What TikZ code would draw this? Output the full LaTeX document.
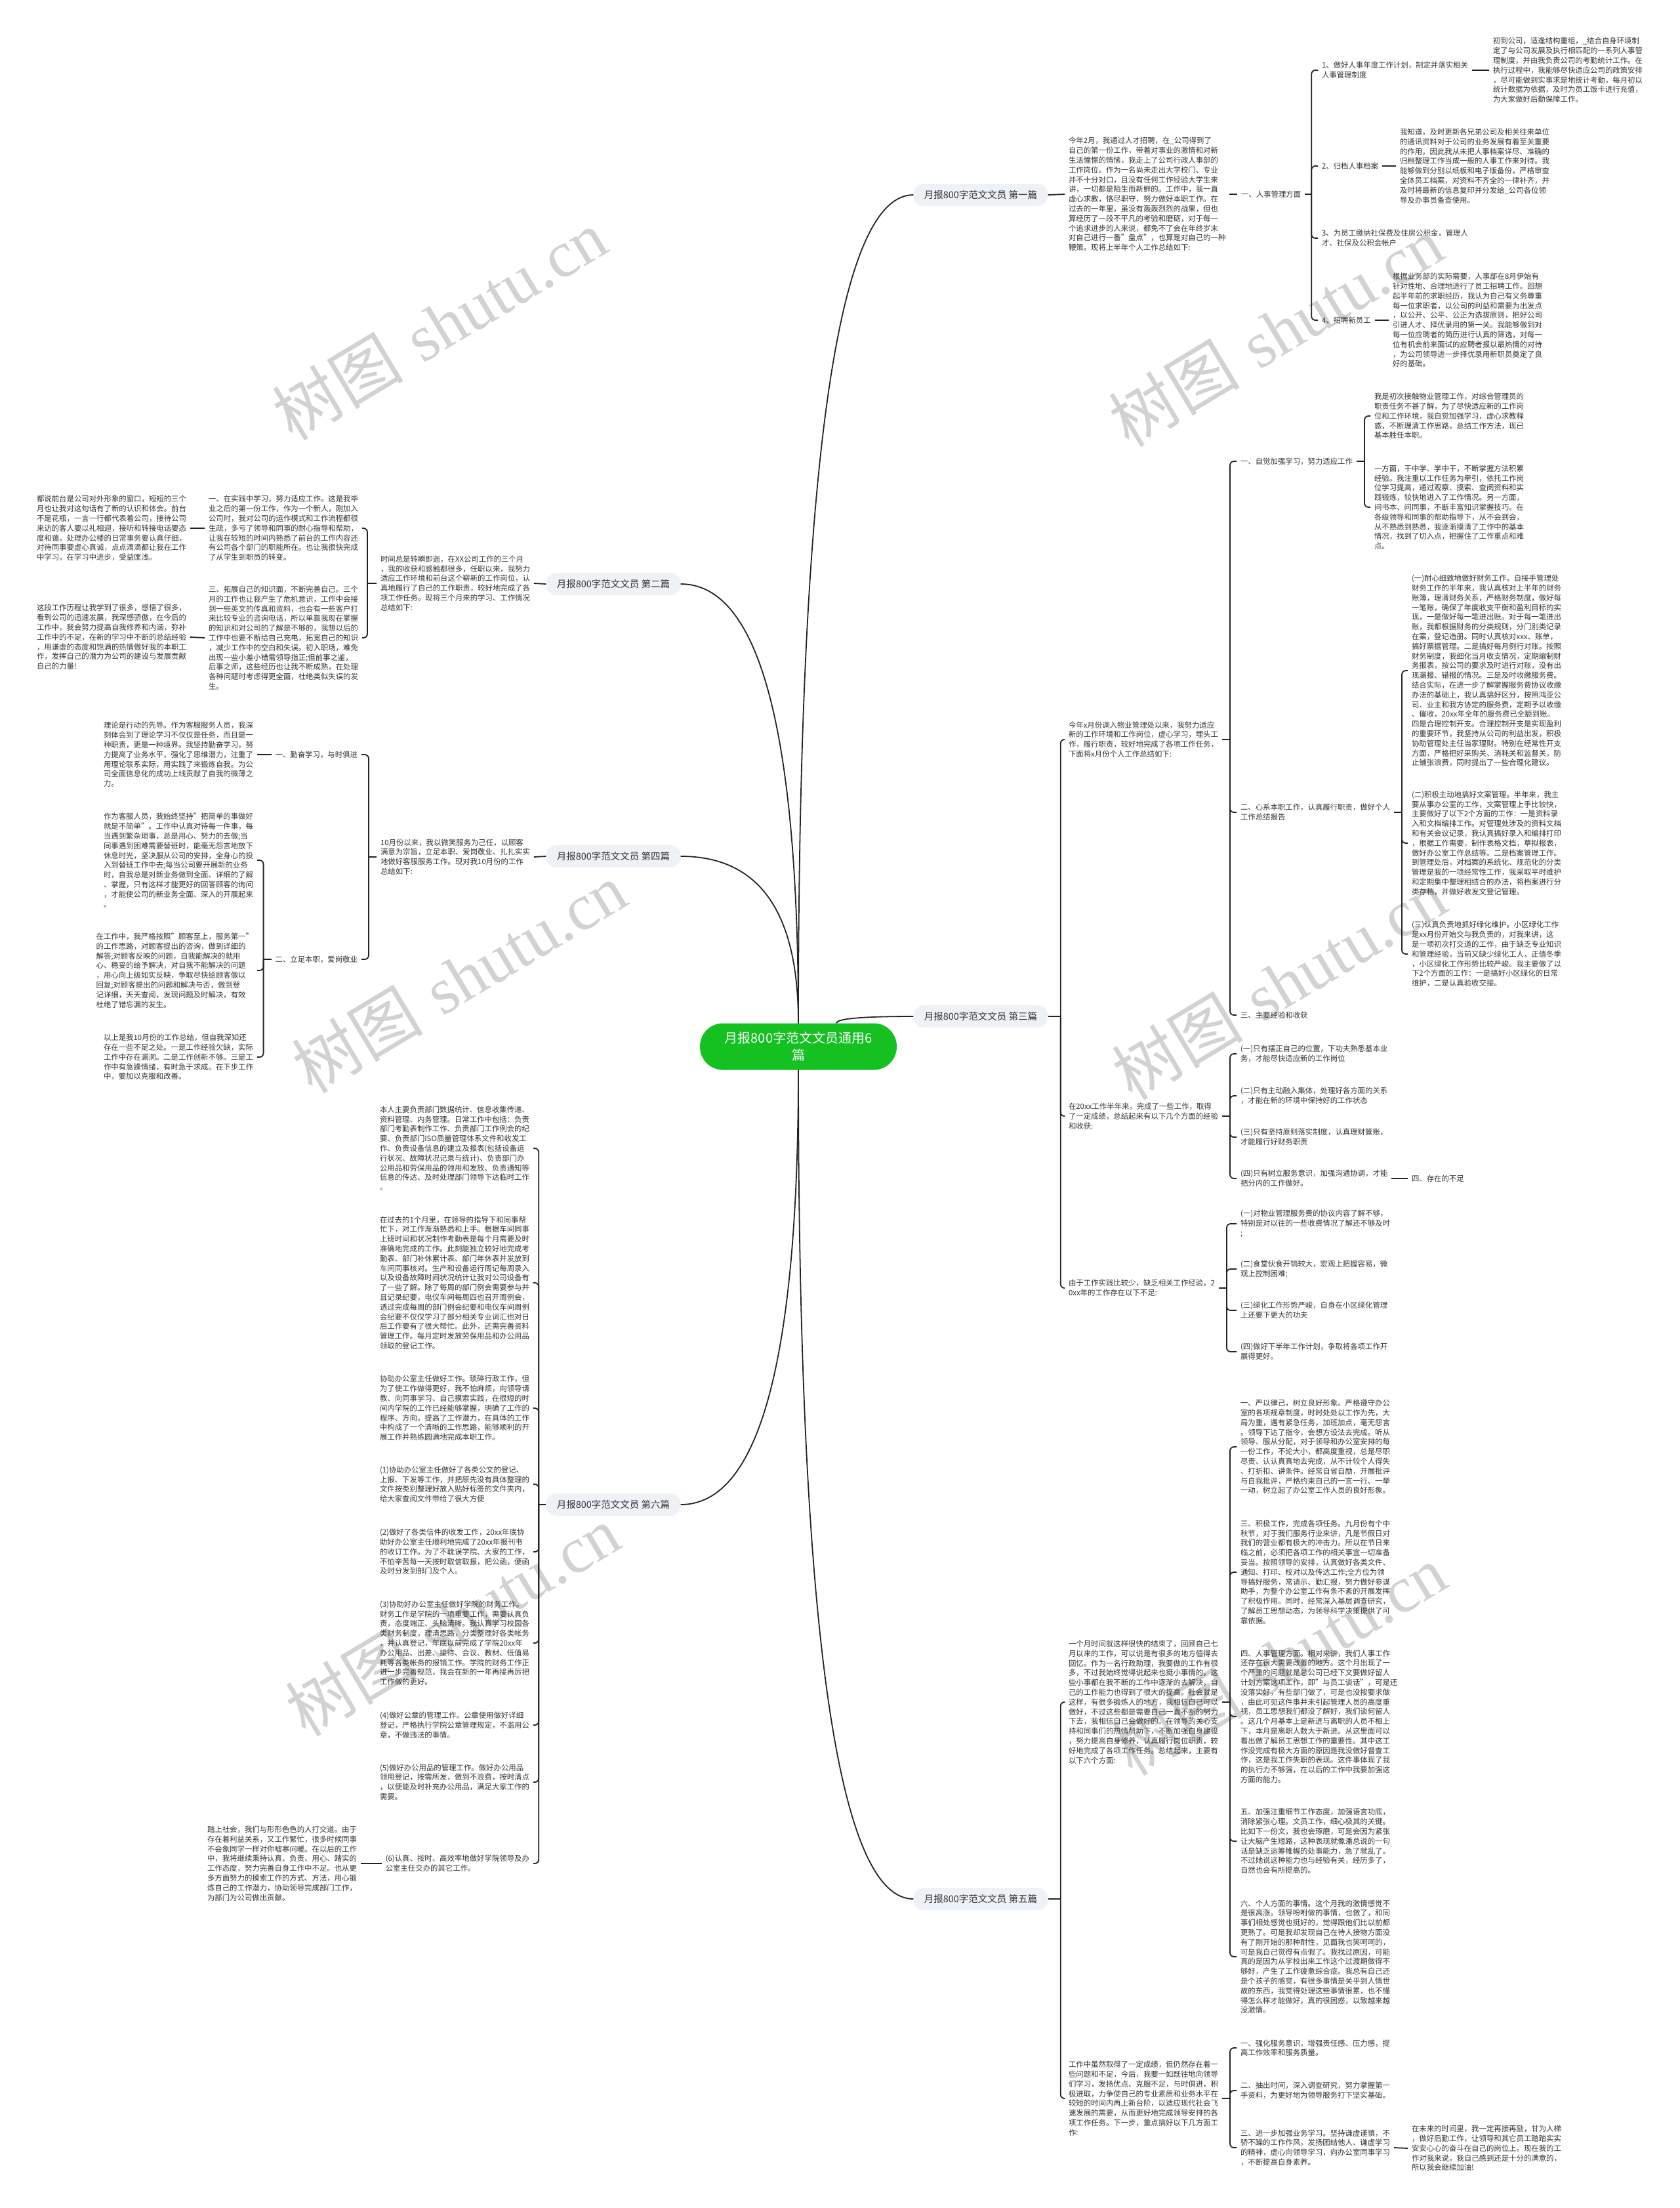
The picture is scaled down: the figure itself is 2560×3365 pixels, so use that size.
\documentclass[tikz,border=0pt]{standalone}
\usepackage{fontspec}
\setmainfont{Noto Sans CJK SC}
\newfontfamily\wmlatin{Liberation Serif}
\usetikzlibrary{calc}
\definecolor{rootgreen}{RGB}{21,192,33}
\definecolor{lblgray}{RGB}{238,241,245}
\definecolor{inkc}{RGB}{51,51,51}
\definecolor{linec}{RGB}{34,34,34}
\definecolor{wmgray}{RGB}{210,210,210}
\newcommand{\rootlink}[2]{\draw[link] (#1) .. controls ($(#1)!0.667!(#1 |- #2)$) and ($(#2)!0.667!(#1 |- #2)$) .. (#2);}
\tikzset{
  root/.style={fill=rootgreen, text=white, rounded corners=35pt, align=center,
    font=\fontsize{20}{26}\selectfont, minimum width=300pt, minimum height=71pt, inner sep=0pt},
  lbl/.style={fill=lblgray, text=inkc, rounded corners=16pt,
    font=\fontsize{14.5}{17}\selectfont, minimum width=205pt, minimum height=34pt, inner sep=0pt},
  para/.style={text=inkc, align=left, font=\fontsize{11.4}{14.8}\selectfont,
    inner xsep=0pt, inner ysep=1pt, outer xsep=6pt},
  paraR/.style={para, anchor=west},
  paraL/.style={para, anchor=east},
  link/.style={draw=linec, line width=1.8pt},
  brk/.style={link, rounded corners=6pt},
  wm/.style={text=wmgray, rotate=31, inner sep=0pt, font=\fontsize{100}{100}\selectfont}
}
\begin{document}
\begin{tikzpicture}[x=1pt, y=-1pt]
\fill[white] (0,0) rectangle (2560,3365);
\useasboundingbox (0,0) rectangle (2560,3365);
% watermark
\foreach \wx/\wy [count=\k] in {670/495, 1945/505, 700/1490, 1950/1500, 690/2470, 1950/2530}
  \node[wm] (wm\k) at (\wx,\wy) {树图\hspace{0.3em}{\wmlatin shutu.cn}};

\node[root] (root) at (1217,1595) {月报800字范文文员通用6\\篇};

% ---- 第一篇
\node[lbl] (p1) at (1495,297) {月报800字范文文员 第一篇};
\node[paraR] (t1) at (1623,296) {今年2月，我通过人才招聘，在\_公司得到了\\自己的第一份工作，带着对事业的激情和对新\\生活憧憬的情愫，我走上了公司行政人事部的\\工作岗位。作为一名尚未走出大学校门、专业\\并不十分对口，且没有任何工作经验大学生来\\讲，一切都是陌生而新鲜的。工作中，我一直\\虚心求教，恪尽职守，努力做好本职工作。在\\过去的一年里，虽没有轰轰烈烈的战果，但也\\算经历了一段不平凡的考验和磨砺，对于每一\\个追求进步的人来说，都免不了会在年终岁末\\对自己进行一番"盘点"，也算是对自己的一种\\鞭策。现将上半年个人工作总结如下:};
\node[paraR] (s1) at (1886,296) {一、人事管理方面};
\node[paraR] (i1) at (2009,107) {1、做好人事年度工作计划，制定并落实相关\\人事管理制度};
\node[paraR] (i2) at (2009,253) {2、归档人事档案};
\node[paraR] (i3) at (2009,363) {3、为员工缴纳社保费及住房公积金，管理人\\才、社保及公积金帐户};
\node[paraR] (i4) at (2009,488) {4、招聘新员工};
\node[paraR] (r1) at (2270,107) {初到公司，适逢结构重组，\_结合自身环境制\\定了与公司发展及执行相匹配的一系列人事管\\理制度，并由我负责公司的考勤统计工作。在\\执行过程中，我能够尽快适应公司的政策安排\\，尽可能做到实事求是地统计考勤，每月初以\\统计数据为依据，及时为员工饭卡进行充值，\\为大家做好后勤保障工作。};
\node[paraR] (r2) at (2128,253) {我知道，及时更新各兄弟公司及相关往来单位\\的通讯资料对于公司的业务发展有着至关重要\\的作用，因此我从未把人事档案详尽、准确的\\归档整理工作当成一般的人事工作来对待。我\\能够做到分别以纸板和电子版备份，严格审查\\全体员工档案，对资料不齐全的一律补齐，并\\及时将最新的信息复印并分发给\_公司各位领\\导及办事员备查使用。};
\node[paraR] (r4) at (2117,488) {根据业务部的实际需要，人事部在8月伊始有\\针对性地、合理地进行了员工招聘工作。回想\\起半年前的求职经历，我认为自己有义务尊重\\每一位求职者，以公司的利益和需要为出发点\\，以公开、公平、公正为选拔原则，把好公司\\引进人才、择优录用的第一关。我能够做到对\\每一位应聘者的简历进行认真的筛选，对每一\\位有机会前来面试的应聘者报以最热情的对待\\，为公司领导进一步择优录用新职员奠定了良\\好的基础。};
\draw[link] (p1.east) -- (t1.west);
\draw[link] (t1.east) -- (s1.west);
\draw[link] (s1.east) -- ++(10,0) coordinate (j1);
\foreach \c in {i1,i2,i3,i4} \draw[brk] (j1) |- (\c.west);
\draw[link] (i1.east) -- (r1.west);
\draw[link] (i2.east) -- (r2.west);
\draw[link] (i4.east) -- (r4.west);

% ---- 第三篇
\node[lbl] (p3) at (1495,1549) {月报800字范文文员 第三篇};
\node[paraR] (t31) at (1623,1127) {今年x月份调入物业管理处以来，我努力适应\\新的工作环境和工作岗位，虚心学习，埋头工\\作，履行职责，较好地完成了各项工作任务，\\下面将x月份个人工作总结如下:};
\node[paraR] (t32) at (1623,1701) {在20xx工作半年来，完成了一些工作，取得\\了一定成绩，总结起来有以下几个方面的经验\\和收获:};
\node[paraR] (t33) at (1623,1963) {由于工作实践比较少，缺乏相关工作经验，2\\0xx年的工作存在以下不足:};
\node[paraR] (c31) at (1885,703) {一、自觉加强学习，努力适应工作};
\node[paraR] (c32) at (1885,1238) {二、心系本职工作，认真履行职责，做好个人\\工作总结报告};
\node[paraR] (c33) at (1885,1547) {三、主要经验和收获};
\node[paraR] (g311) at (2089,634) {我是初次接触物业管理工作，对综合管理员的\\职责任务不甚了解，为了尽快适应新的工作岗\\位和工作环境，我自觉加强学习，虚心求教释\\惑，不断理清工作思路，总结工作方法，现已\\基本胜任本职。};
\node[paraR] (g312) at (2089,773) {一方面，干中学、学中干，不断掌握方法积累\\经验。我注重以工作任务为牵引，依托工作岗\\位学习提高，通过观察、摸索、查阅资料和实\\践锻炼，较快地进入了工作情况。另一方面，\\问书本、问同事，不断丰富知识掌握技巧。在\\各级领导和同事的帮助指导下，从不会到会，\\从不熟悉到熟悉，我逐渐摸清了工作中的基本\\情况，找到了切入点，把握住了工作重点和难\\点。};
\node[paraR] (g321) at (2146,1022) {(一)耐心细致地做好财务工作。自接手管理处\\财务工作的半年来，我认真核对上半年的财务\\账簿，理清财务关系，严格财务制度，做好每\\一笔账，确保了年度收支平衡和盈利目标的实\\现，一是做好每一笔进出账。对于每一笔进出\\账，我都根据财务的分类规则，分门别类记录\\在案，登记造册。同时认真核对xxx、账单，\\搞好票据管理。二是搞好每月例行对账。按照\\财务制度，我细化当月收支情况，定期编制财\\务报表，按公司的要求及时进行对账，没有出\\现漏报、错报的情况。三是及时收缴服务费。\\结合实际，在进一步了解掌握服务费协议收缴\\办法的基础上，我认真搞好区分，按照鸿亚公\\司、业主和我方协定的服务费，定期予以收缴\\、催收，20xx年全年的服务费已全额到账。\\四是合理控制开支。合理控制开支是实现盈利\\的重要环节，我坚持从公司的利益出发，积极\\协助管理处主任当家理财。特别在经常性开支\\方面，严格把好采购关、消耗关和监督关，防\\止铺张浪费，同时提出了一些合理化建议。};
\node[paraR] (g322) at (2146,1285) {(二)积极主动地搞好文案管理。半年来，我主\\要从事办公室的工作，文案管理上手比较快，\\主要做好了以下2个方面的工作：一是资料录\\入和文档编排工作。对管理处涉及的资料文档\\和有关会议记录，我认真搞好录入和编排打印\\，根据工作需要，制作表格文档，草拟报表，\\做好办公室工作总结等。二是档案管理工作。\\到管理处后，对档案的系统化、规范化的分类\\管理是我的一项经常性工作，我采取平时维护\\和定期集中整理相结合的办法，将档案进行分\\类存档，并做好收发文登记管理。};
\node[paraR] (g323) at (2146,1454) {(三)认真负责地抓好绿化维护。小区绿化工作\\是xx月份开始交与我负责的，对我来讲，这\\是一项初次打交道的工作，由于缺乏专业知识\\和管理经验，当前又缺少绿化工人，正值冬季\\，小区绿化工作形势比较严峻。我主要做了以\\下2个方面的工作：一是搞好小区绿化的日常\\维护，二是认真验收交接。};
\node[paraR] (h1) at (1885,1606) {(一)只有摆正自己的位置，下功夫熟悉基本业\\务，才能尽快适应新的工作岗位};
\node[paraR] (h2) at (1885,1670) {(二)只有主动融入集体，处理好各方面的关系\\，才能在新的环境中保持好的工作状态};
\node[paraR] (h3) at (1885,1733) {(三)只有坚持原则落实制度，认真理财管账，\\才能履行好财务职责};
\node[paraR] (h4) at (1885,1796) {(四)只有树立服务意识，加强沟通协调，才能\\把分内的工作做好。};
\node[paraR] (hz) at (2146,1796) {四、存在的不足};
\node[paraR] (k1) at (1885,1865) {(一)对物业管理服务费的协议内容了解不够，\\特别是对以往的一些收费情况了解还不够及时\\;};
\node[paraR] (k2) at (1885,1934) {(二)食堂伙食开销较大，宏观上把握容易，微\\观上控制困难;};
\node[paraR] (k3) at (1885,1997) {(三)绿化工作形势严峻，自身在小区绿化管理\\上还要下更大的功夫};
\node[paraR] (k4) at (1885,2060) {(四)做好下半年工作计划，争取将各项工作开\\展得更好。};
\draw[link] (p3.east) -- ++(19,0) coordinate (j3);
\foreach \c in {t31,t32,t33} \draw[brk] (j3) |- (\c.west);
\draw[link] (t31.east) -- ++(12,0) coordinate (j31);
\foreach \c in {c31,c32,c33} \draw[brk] (j31) |- (\c.west);
\draw[link] (c31.east) -- ++(12,0) coordinate (j311);
\foreach \c in {g311,g312} \draw[brk] (j311) |- (\c.west);
\draw[link] (c32.east) -- ++(12,0) coordinate (j321);
\foreach \c in {g321,g322,g323} \draw[brk] (j321) |- (\c.west);
\draw[link] (t32.east) -- ++(12,0) coordinate (j32);
\foreach \c in {h1,h2,h3,h4} \draw[brk] (j32) |- (\c.west);
\draw[link] (h4.east) -- (hz.west);
\draw[link] (t33.east) -- ++(12,0) coordinate (j33);
\foreach \c in {k1,k2,k3,k4} \draw[brk] (j33) |- (\c.west);

% ---- 第五篇
\node[lbl] (p5) at (1495,2894) {月报800字范文文员 第五篇};
\node[paraR] (t51) at (1623,2594) {一个月时间就这样很快的结束了，回顾自己七\\月以来的工作，可以说是有很多的地方值得去\\回忆。作为一名行政助理，我要做的工作有很\\多，不过我始终觉得说起来也挺小事情的，这\\些小事都在我不断的工作中逐渐的去解决，自\\己的工作能力也得到了很大的提高。社会就是\\这样，有很多锻炼人的地方，我相信自己可以\\做好，不过这些都是需要自己一直不断的努力\\下去，我相信自己会做好的。在领导的关心支\\持和同事们的热情帮助下，不断加强自身建设\\，努力提高自身修养，认真履行岗位职责，较\\好地完成了各项工作任务。总结起来，主要有\\以下六个方面:};
\node[paraR] (t52) at (1623,3198) {工作中虽然取得了一定成绩，但仍然存在着一\\些问题和不足，今后，我要一如既往地向领导\\们学习，发扬优点、克服不足，与时俱进，积\\极进取，力争使自己的专业素质和业务水平在\\较短的时间内再上新台阶，以适应现代社会飞\\速发展的需要，从而更好地完成领导安排的各\\项工作任务。下一步，重点搞好以下几方面工\\作:};
\node[paraR] (f1) at (1885,2205) {一、严以律己，树立良好形象。严格遵守办公\\室的各项规章制度，时时处处以工作为先，大\\局为重，遇有紧急任务，加班加点，毫无怨言\\。领导下达了指令，会想方设法去完成。听从\\领导、服从分配，对于领导和办公室安排的每\\一份工作，不论大小，都高度重视，总是尽职\\尽责、认认真真地去完成，从不计较个人得失\\、打折扣、讲条件。经常自省自励，开展批评\\与自我批评，严格约束自己的一言一行、一举\\一动，树立起了办公室工作人员的良好形象。};
\node[paraR] (f3) at (1885,2396) {三、积极工作，完成各项任务。九月份有个中\\秋节，对于我们服务行业来讲，凡是节假日对\\我们的营业都有极大的冲击力。所以在节日来\\临之前，必须把各项工作的相关事宜一切准备\\妥当。按照领导的安排，认真做好各类文件、\\通知、打印、校对以及传达工作;全方位为领\\导搞好服务，常请示、勤汇报，努力做好参谋\\助手，为整个办公室工作有条不紊的开展发挥\\了积极作用。同时，经常深入基层调查研究，\\了解员工思想动态，为领导科学决策提供了可\\靠依据。};
\node[paraR] (f4) at (1885,2616) {四、人事管理方面。相对来讲，我们人事工作\\还存在很大需要改善的地方。这个月出现了一\\个严重的问题就是总公司已经下文要做好留人\\计划方案这项工作，即"与员工谈话"，可是还\\没落实好，有些部门做了，可是也没按要求做\\，由此可见这件事并未引起管理人员的高度重\\视，员工思想我们都没了解好，我们谈何留人\\。这几个月基本上是新进与离职的人员不相上\\下，本月是离职人数大于新进。从这里面可以\\看出做了解员工思想工作的重要性。其中这工\\作没完成有极大方面的原因是我没做好督查工\\作，这是我工作失职的表现。这件事体现了我\\的执行力不够强，在以后的工作中我要加强这\\方面的能力。};
\node[paraR] (f5) at (1885,2806) {五、加强注重细节工作态度，加强语言功底，\\消除紧张心理。文员工作，细心极其的关键。\\比如下一份文，我也会琢磨，可是会因为紧张\\让大脑产生短路，这种表现就像潘总说的一句\\话是缺乏运筹帷幄的处事能力，急了就乱了。\\不过她说这种能力也与经验有关，经历多了，\\自然也会有所提高的。};
\node[paraR] (f6) at (1885,2982) {六、个人方面的事情。这个月我的激情感觉不\\是很高涨。领导吩咐做的事情，也做了，和同\\事们相处感觉也挺好的，觉得跟他们比以前都\\更熟了。可是我却发现自己在待人接物方面没\\有了刚开始的那种耐性，见面我也笑呵呵的，\\可是我自己觉得有点假了。我找过原因，可能\\真的是因为从学校出来工作这个过渡期做得不\\够好，产生了工作疲惫综合症。我总有自己还\\是个孩子的感觉，有很多事情是关乎到人情世\\故的东西，我觉得处理这些事情很累，也不懂\\得怎么样才能做好，真的很困惑，以致越来越\\没激情。};
\node[paraR] (e1) at (1885,3121) {一、强化服务意识，增强责任感、压力感，提\\高工作效率和服务质量。};
\node[paraR] (e2) at (1885,3186) {二、抽出时间，深入调查研究，努力掌握第一\\手资料，为更好地为领导服务打下坚实基础。};
\node[paraR] (e3) at (1885,3273) {三、进一步加强业务学习。坚持谦虚谨慎，不\\骄不躁的工作作风，发扬团结他人、谦虚学习\\的精神，虚心向领导学习，向办公室同事学习\\，不断提高自身素养。};
\node[paraR] (e3r) at (2146,3274) {在未来的时间里，我一定再接再励，甘为人梯\\，做好后勤工作，让领导和其它员工踏踏实实\\安安心心的奋斗在自己的岗位上。现在我的工\\作对我来说，我自己感到还是十分的满意的，\\所以我会继续加油!};
\draw[link] (p5.east) -- ++(19,0) coordinate (j5);
\foreach \c in {t51,t52} \draw[brk] (j5) |- (\c.west);
\draw[link] (t51.east) -- ++(12,0) coordinate (j51);
\foreach \c in {f1,f3,f4,f5,f6} \draw[brk] (j51) |- (\c.west);
\draw[link] (t52.east) -- ++(12,0) coordinate (j52);
\foreach \c in {e1,e2,e3} \draw[brk] (j52) |- (\c.west);
\draw[link] (e3.east) -- (e3r.west);

% ---- 第二篇
\node[lbl] (p2) at (935,890) {月报800字范文文员 第二篇};
\node[paraL] (t2) at (814,889) {时间总是转瞬即逝，在XX公司工作的三个月\\，我的收获和感触都很多，任职以来，我努力\\适应工作环境和前台这个崭新的工作岗位，认\\真地履行了自己的工作职责，较好地完成了各\\项工作任务。现将三个月来的学习、工作情况\\总结如下:};
\node[paraL] (c21) at (552,805) {一、在实践中学习，努力适应工作。这是我毕\\业之后的第一份工作，作为一个新人，刚加入\\公司时，我对公司的运作模式和工作流程都很\\生疏，多亏了领导和同事的耐心指导和帮助，\\让我在较短的时间内熟悉了前台的工作内容还\\有公司各个部门的职能所在。也让我很快完成\\了从学生到职员的转变。};
\node[paraL] (c22) at (552,972) {三、拓展自己的知识面，不断完善自己。三个\\月的工作也让我产生了危机意识，工作中会接\\到一些英文的传真和资料，也会有一些客户打\\来比较专业的咨询电话，所以单靠我现在掌握\\的知识和对公司的了解是不够的，我想以后的\\工作中也要不断给自己充电，拓宽自己的知识\\，减少工作中的空白和失误。初入职场，难免\\出现一些小差小错需领导指正;但前事之鉴，\\后事之师，这些经历也让我不断成熟，在处理\\各种问题时考虑得更全面，杜绝类似失误的发\\生。};
\node[paraL] (g21) at (290,805) {都说前台是公司对外形象的窗口，短短的三个\\月也让我对这句话有了新的认识和体会。前台\\不是花瓶，一言一行都代表着公司，接待公司\\来访的客人要以礼相迎，接听和转接电话要态\\度和蔼，处理办公楼的日常事务要认真仔细，\\对待同事要虚心真诚，点点滴滴都让我在工作\\中学习，在学习中进步，受益匪浅。};
\node[paraL] (g22) at (290,971) {这段工作历程让我学到了很多，感悟了很多，\\看到公司的迅速发展，我深感骄傲，在今后的\\工作中，我会努力提高自我修养和内涵，弥补\\工作中的不足，在新的学习中不断的总结经验\\，用谦虚的态度和饱满的热情做好我的本职工\\作，发挥自己的潜力为公司的建设与发展贡献\\自己的力量!};
\draw[link] (p2.west) -- (t2.east);
\draw[link] (t2.west) -- ++(-14,0) coordinate (j2);
\foreach \c in {c21,c22} \draw[brk] (j2) |- (\c.east);
\draw[link] (c21.west) -- (g21.east);
\draw[link] (c22.west) -- (g22.east);

% ---- 第四篇
\node[lbl] (p4) at (935,1305) {月报800字范文文员 第四篇};
\node[paraL] (t4) at (814,1306) {10月份以来，我以微笑服务为己任，以顾客\\满意为宗旨，立足本职、爱岗敬业、扎扎实实\\地做好客服服务工作。现对我10月份的工作\\总结如下:};
\node[paraL] (c41) at (551,1150) {一、勤奋学习，与时俱进};
\node[paraL] (c42) at (551,1462) {二、立足本职，爱岗敬业};
\node[paraL] (g41) at (392,1150) {理论是行动的先导。作为客服服务人员，我深\\刻体会到了理论学习不仅仅是任务，而且是一\\种职责，更是一种境界。我坚持勤奋学习，努\\力提高了业务水平，强化了思维潜力，注重了\\用理论联系实际，用实践了来锻炼自我。为公\\司全面信息化的成功上线贡献了自我的微薄之\\力。};
\node[paraL] (g421) at (392,1311) {作为客服人员，我始终坚持"把简单的事做好\\就是不简单"。工作中认真对待每一件事，每\\当遇到繁杂琐事，总是用心、努力的去做;当\\同事遇到困难需要替班时，能毫无怨言地放下\\休息时光，坚决服从公司的安排，全身心的投\\入到替班工作中去;每当公司要开展新的业务\\时，自我总是对新业务做到全面、详细的了解\\、掌握，只有这样才能更好的回答顾客的询问\\，才能使公司的新业务全面、深入的开展起来\\。};
\node[paraL] (g422) at (392,1479) {在工作中，我严格按照"顾客至上，服务第一"\\的工作思路，对顾客提出的咨询，做到详细的\\解答;对顾客反映的问题，自我能解决的就用\\心、稳妥的给予解决，对自我不能解决的问题\\，用心向上级如实反映，争取尽快给顾客做以\\回复;对顾客提出的问题和解决与否，做到登\\记详细，天天查阅，发现问题及时解决，有效\\杜绝了错忘漏的发生。};
\node[paraL] (g423) at (392,1611) {以上是我10月份的工作总结，但自我深知还\\存在一些不足之处。一是工作经验欠缺，实际\\工作中存在漏洞。二是工作创新不够。三是工\\作中有急躁情绪，有时急于求成。在下步工作\\中，要加以克服和改善。};
\draw[link] (p4.west) -- (t4.east);
\draw[link] (t4.west) -- ++(-12,0) coordinate (j4);
\foreach \c in {c41,c42} \draw[brk] (j4) |- (\c.east);
\draw[link] (c41.west) -- (g41.east);
\draw[link] (c42.west) -- ++(-12,0) coordinate (j42);
\foreach \c in {g421,g422,g423} \draw[brk] (j42) |- (\c.east);

% ---- 第六篇
\node[lbl] (p6) at (935,2293) {月报800字范文文员 第六篇};
\node[paraL] (g61) at (813,1750) {本人主要负责部门数据统计、信息收集传递、\\资料管理、内务管理。日常工作中包括：负责\\部门考勤表制作工作、负责部门工作例会的纪\\要、负责部门ISO质量管理体系文件和收发工\\作、负责设备信息的建立及报表(包括设备运\\行状况、故障状况记录与统计)、负责部门办\\公用品和劳保用品的领用和发放、负责通知等\\信息的传达、及时处理部门领导下达临时工作\\。};
\node[paraL] (g62) at (813,1955) {在过去的1个月里，在领导的指导下和同事帮\\忙下，对工作渐渐熟悉和上手。根据车间同事\\上班时间和状况制作考勤表是每个月需要及时\\准确地完成的工作。此刻能独立较好地完成考\\勤表、部门补休累计表、部门年休表并发放到\\车间同事核对。生产和设备运行周记每周录入\\以及设备故障时间状况统计让我对公司设备有\\了一些了解。除了每周的部门例会需要参与并\\且记录纪要，电仪车间每周四也召开周例会，\\透过完成每周的部门例会纪要和电仪车间周例\\会纪要不仅仅学习了部分相关专业词汇也对日\\后工作要有了很大帮忙。此外，还需完善资料\\管理工作。每月定时发放劳保用品和办公用品\\领取的登记工作。};
\node[paraL] (g63) at (813,2146) {协助办公室主任做好工作。琐碎行政工作，但\\为了使工作做得更好，我不怕麻烦，向领导请\\教、向同事学习、自己摸索实践，在很短的时\\间内学院的工作已经能够掌握，明确了工作的\\程序、方向，提高了工作潜力，在具体的工作\\中构成了一个清晰的工作思路，能够顺利的开\\展工作并熟练圆满地完成本职工作。};
\node[paraL] (g64) at (813,2262) {(1)协助办公室主任做好了各类公文的登记、\\上报、下发等工作，并把原先没有具体整理的\\文件按类别整理好放入贴好标签的文件夹内，\\给大家查阅文件带给了很大方便};
\node[paraL] (g65) at (813,2365) {(2)做好了各类信件的收发工作，20xx年底协\\助好办公室主任顺利地完成了20xx年报刊书\\的收订工作。为了不耽误学院、大家的工作，\\不怕辛苦每一天按时取信取报，把公函，便函\\及时分发到部门及个人。};
\node[paraL] (g66) at (813,2504) {(3)协助好办公室主任做好学院的财务工作。\\财务工作是学院的一项重要工作，需要认真负\\责，态度端正、头脑清晰。我认真学习校园各\\类财务制度，理清思路，分类整理好各类帐务\\，并认真登记，年底以前完成了学院20xx年\\办公用品、出差、接待、会议、教材、低值易\\耗等各类帐务的报销工作。学院的财务工作正\\进一步完善规范，我会在新的一年再接再厉把\\工作做的更好。};
\node[paraL] (g67) at (813,2629) {(4)做好公章的管理工作。公章使用做好详细\\登记，严格执行学院公章管理规定，不滥用公\\章，不做违法的事情。};
\node[paraL] (g68) at (813,2716) {(5)做好办公用品的管理工作。做好办公用品\\领用登记，按需所发，做到不浪费，按时清点\\，以便能及时补充办公用品，满足大家工作的\\需要。};
\node[paraL] (g69) at (813,2840) {(6)认真、按时、高效率地做好学院领导及办\\公室主任交办的其它工作。};
\node[paraL] (g691) at (550,2840) {踏上社会，我们与形形色色的人打交道。由于\\存在着利益关系，又工作繁忙，很多时候同事\\不会象同学一样对你嘘寒问暖。在以后的工作\\中，我将继续秉持认真、负责、用心、踏实的\\工作态度，努力完善自身工作中不足。也从更\\多方面努力的摸索工作的方式、方法，用心锻\\炼自己的工作潜力，协助领导完成部门工作，\\为部门为公司做出贡献。};
\draw[link] (p6.west) -- ++(-11,0) coordinate (j6);
\foreach \c in {g61,g62,g63,g64,g65,g66,g67,g68,g69} \draw[brk] (j6) |- (\c.east);
\draw[link] (g69.west) -- (g691.east);

% ---- root to branches
\coordinate (rt3) at ([xshift=58pt]root.north);
\rootlink{root.north}{p1.west}
\rootlink{rt3}{p3.west}
\rootlink{root.south}{p5.west}
\rootlink{root.north}{p2.east}
\rootlink{root.north}{p4.east}
\rootlink{root.south}{p6.east}
\end{tikzpicture}
\end{document}
